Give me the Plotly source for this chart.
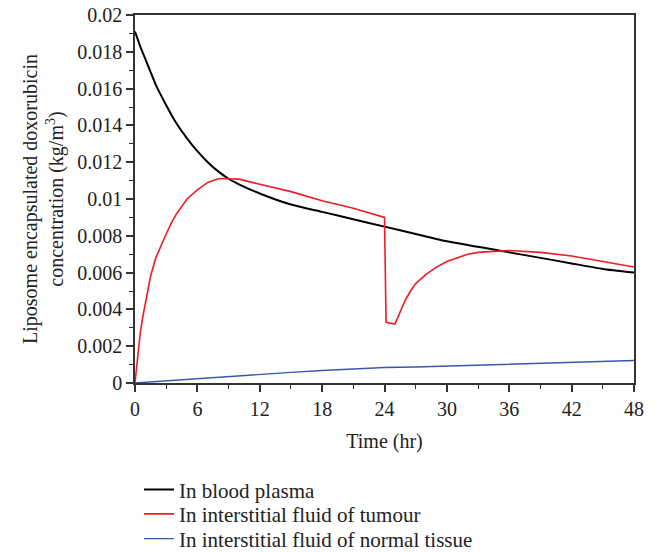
import plotly.graph_objects as go

# time (hr) and concentrations (kg/m^3)
t_plasma = [0, 0.5, 1, 1.5, 2, 3, 4, 5, 6, 7, 8, 9, 10, 12, 15, 18, 21, 24, 27, 30, 33, 36, 39, 42, 45, 48]
c_plasma = [0.0191, 0.0183, 0.0176, 0.0169, 0.0162, 0.0151, 0.0141, 0.0133, 0.0126, 0.0120,
            0.0115, 0.0111, 0.0108, 0.0103, 0.0097, 0.0093, 0.0089, 0.0085, 0.0081, 0.0077,
            0.0074, 0.0071, 0.0068, 0.0065, 0.0062, 0.0060]

t_tumour = [0, 0.25, 0.5, 0.75, 1, 1.5, 2, 2.5, 3, 3.5, 4, 5, 6, 7, 8, 9, 10, 12, 15, 18, 21,
            24, 24.15, 25, 25.5, 26, 26.5, 27, 28, 29, 30, 31, 32, 33, 34, 35, 36, 39, 42, 45, 48]
c_tumour = [0, 0.0015, 0.0027, 0.0036, 0.0044, 0.0058, 0.0068, 0.0075, 0.0081, 0.0087,
            0.0092, 0.0100, 0.0105, 0.0109, 0.0111, 0.0111, 0.01108, 0.0108, 0.0104, 0.0099,
            0.0095, 0.0090, 0.0033, 0.0032, 0.0039, 0.0045, 0.0050, 0.0054, 0.0059, 0.0063,
            0.0066, 0.0068, 0.0070, 0.0071, 0.00713, 0.00716, 0.0072, 0.0071, 0.0069, 0.0066, 0.0063]

t_normal = [0, 3, 6, 9, 12, 15, 18, 21, 24, 27, 30, 33, 36, 39, 42, 45, 48]
c_normal = [0, 0.00012, 0.00025, 0.00037, 0.00048, 0.00058, 0.00068, 0.00076, 0.00084,
            0.00087, 0.00092, 0.00097, 0.00102, 0.00107, 0.00112, 0.00117, 0.00122]

x_ticks = [0, 6, 12, 18, 24, 30, 36, 42, 48]
y_ticks = [0, 0.002, 0.004, 0.006, 0.008, 0.01, 0.012, 0.014, 0.016, 0.018, 0.02]
y_labels = ["0", "0.002", "0.004", "0.006", "0.008", "0.01", "0.012", "0.014", "0.016", "0.018", "0.02"]

FONT = "Liberation Serif"
FS = 20

fig = go.Figure()
fig.add_trace(go.Scatter(x=t_plasma, y=c_plasma, mode="lines", name="In blood plasma",
                         legend="legend",
                         line=dict(color="black", width=2, shape="spline", smoothing=0.5)))
fig.add_trace(go.Scatter(x=t_tumour, y=c_tumour, mode="lines", name="In interstitial fluid of tumour",
                         legend="legend2",
                         line=dict(color="#ee1c24", width=1.6)))
fig.add_trace(go.Scatter(x=t_normal, y=c_normal, mode="lines", name="In interstitial fluid of normal tissue",
                         legend="legend3",
                         line=dict(color="#3a56a8", width=1.4)))

axis_common = dict(
    showline=True, linecolor="#333", linewidth=1.5, mirror=True,
    ticks="outside", ticklen=7, tickwidth=1.5, tickcolor="#333",
    showgrid=False, zeroline=False, automargin=False, ticklabeloverflow="allow",
    tickfont=dict(family=FONT, size=FS, color="#222"),
)

fig.update_xaxes(
    range=[0, 48], tickvals=x_ticks,
    minor=dict(dtick=3, ticks="outside", ticklen=4, tickwidth=1.2, tickcolor="#333", showgrid=False),
    title=dict(text="Time (hr)", font=dict(family=FONT, size=FS, color="#222"), standoff=15),
    **axis_common,
)
fig.update_yaxes(
    range=[0, 0.02], tickvals=y_ticks, ticktext=y_labels,
    minor=dict(dtick=0.001, ticks="outside", ticklen=4, tickwidth=1.2, tickcolor="#333", showgrid=False),
    title=dict(text="Liposome encapsulated doxorubicin<br>concentration (kg/m<sup>3</sup>)",
               font=dict(family=FONT, size=FS, color="#222"), standoff=8),
    **axis_common,
)

leg = dict(x=0.008, xanchor="left", yanchor="middle", yref="container",
           font=dict(family=FONT, size=21, color="#222"),
           itemwidth=30, bgcolor="rgba(0,0,0,0)")

fig.update_layout(
    width=664, height=552,
    margin=dict(l=127, r=38, t=7, b=177),
    plot_bgcolor="white", paper_bgcolor="white",
    font=dict(family=FONT, size=FS, color="#222"),
    legend=dict(leg, y=0.127),
    legend2=dict(leg, y=0.083),
    legend3=dict(leg, y=0.038),
    showlegend=True,
)

fig.write_html("out.html")
